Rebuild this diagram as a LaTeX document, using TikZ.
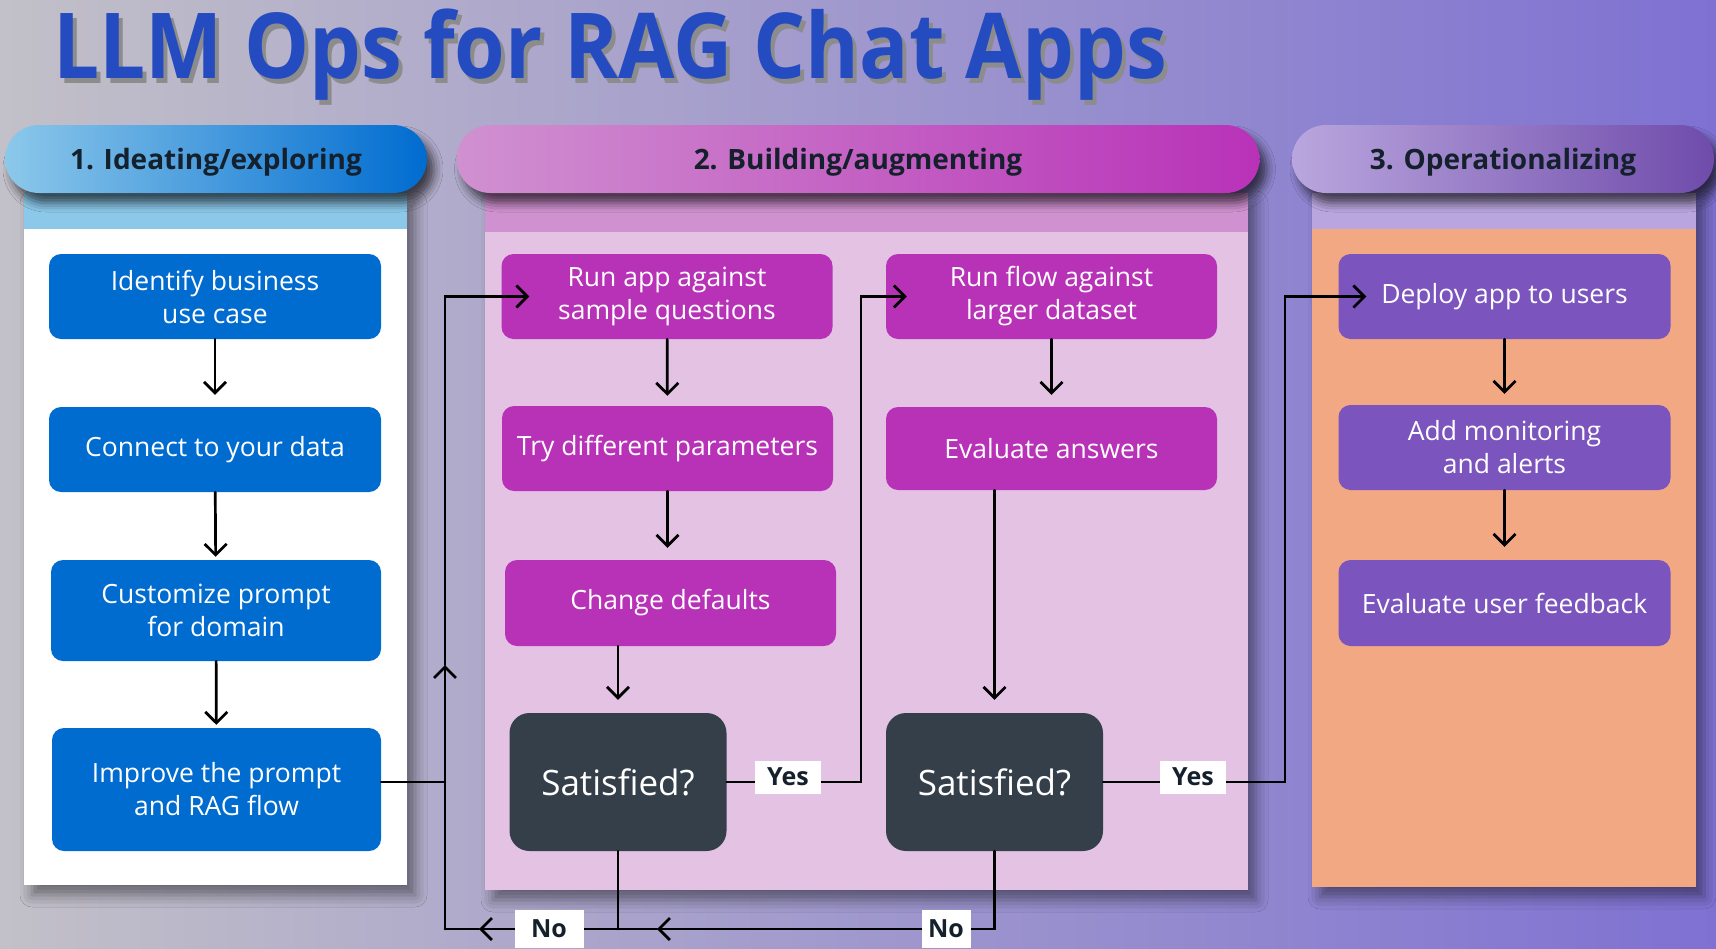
\documentclass[tikz,border=0pt]{standalone}
\usepackage{fontspec}
\usepackage{graphicx}
\setmainfont{Open Sans}
\usetikzlibrary{arrows.meta,shadows.blur}
\definecolor{bgleft}{RGB}{194,192,200}
\definecolor{bgright}{RGB}{126,113,210}
\definecolor{titleblue}{RGB}{36,76,192}
\definecolor{inkdark}{RGB}{20,32,44}
\definecolor{ideablue}{RGB}{0,108,208}
\definecolor{ideastrip}{RGB}{140,200,234}
\definecolor{buildmag}{RGB}{184,50,184}
\definecolor{buildstrip}{RGB}{208,145,208}
\definecolor{buildbody}{RGB}{228,194,228}
\definecolor{opspurple}{RGB}{123,84,190}
\definecolor{opsstrip}{RGB}{186,166,222}
\definecolor{opsbody}{RGB}{242,168,130}
\definecolor{decide}{RGB}{52,63,74}

\begin{document}
\begin{tikzpicture}[x=1pt,y=-1pt,>={Straight Barb[length=11pt,width=22pt]},
  flow/.style={line width=2.7pt,line cap=round},
  box/.style={rounded corners=12pt,text=white,align=center,inner sep=0pt,
    minimum width=331pt,minimum height=85pt,font=\fontsize{26.5}{33}\selectfont},
  ideabox/.style={box,fill=ideablue},
  buildbox/.style={box,fill=buildmag},
  opsbox/.style={box,fill=opspurple},
  decidebox/.style={box,fill=decide,rounded corners=20pt,minimum width=217pt,
    minimum height=138pt,font=\fontsize{35}{40}\selectfont},
  yesno/.style={fill=white,text=inkdark,inner sep=0pt,minimum height=33pt,
    font=\fontsize{25}{30}\selectfont\bfseries},
  head/.style={rounded corners=34pt,minimum height=68pt,text=inkdark,
    text height=20pt,text depth=0pt,font=\fontsize{28}{40}\selectfont\bfseries,
    blur shadow={shadow xshift=7pt,shadow yshift=-10pt,shadow blur radius=9pt,shadow opacity=65}},
  panel/.style={blur shadow={shadow xshift=8pt,shadow yshift=-10pt,shadow blur radius=12pt,shadow opacity=45}},
  titletext/.style={anchor=base west,inner sep=0pt,font=\fontsize{91}{100}\selectfont\bfseries}]
  \useasboundingbox (0,0) rectangle (1716,948);
  \shade[left color=bgleft,right color=bgright] (0,0) rectangle (1716,948);

  \node[titletext,text=black!45] at (57,83) {\scalebox{0.9}[1]{LLM Ops for RAG Chat Apps}};
  \node[titletext,text=titleblue] (title) at (53,78) {\scalebox{0.9}[1]{LLM Ops for RAG Chat Apps}};

  \fill[white,panel] (24,193) rectangle (407,885);
  \fill[ideastrip] (24,193) rectangle (407,229);
  \fill[buildbody,panel] (485,193) rectangle (1248,890);
  \fill[buildstrip] (485,193) rectangle (1248,232);
  \fill[opsbody,panel] (1312,193) rectangle (1696,887);
  \fill[opsstrip] (1312,193) rectangle (1696,229);

  \node[head,minimum width=422pt,left color=ideastrip,middle color=ideablue!70!ideastrip,right color=ideablue] (headone) at (216,159) {1. Ideating/exploring};
  \node[head,minimum width=803pt,left color=buildstrip,middle color=buildstrip!90!buildmag,right color=buildmag] (headtwo) at (858,159) {2. Building/augmenting};
  \node[head,minimum width=422pt,left color=opsstrip,middle color=opsstrip,right color=opspurple!90!black] (headthree) at (1503,159) {3. Operationalizing};

  \node[ideabox,minimum width=332pt] (ident) at (215,296.5) {Identify business\\use case};
  \node[ideabox,minimum width=332pt] (connect) at (215,449.5) {Connect to your data};
  \node[ideabox,minimum width=330pt,minimum height=101pt] (custom) at (216,610.5) {Customize prompt\\for domain};
  \node[ideabox,minimum width=329pt,minimum height=123pt] (improve) at (216.5,789.5) {Improve the prompt\\and RAG flow};

  \node[buildbox] (runapp) at (667,296.5) {Run app against\\sample questions};
  \node[buildbox] (tryparams) at (667.5,448.5) {Try different parameters};
  \node[buildbox,minimum height=86pt] (defaults) at (670.5,603) {Change defaults};
  \node[decidebox] (satone) at (618,782) {Satisfied?};

  \node[buildbox] (runflow) at (1051.5,296.5) {Run flow against\\larger dataset};
  \node[buildbox,minimum height=83pt] (evalans) at (1051.5,448.5) {Evaluate answers};
  \node[decidebox] (sattwo) at (994.5,782) {Satisfied?};

  \node[opsbox,minimum width=332pt] (deploy) at (1504.5,296.5) {Deploy app to users};
  \node[opsbox,minimum width=332pt] (monitor) at (1504.5,447.5) {Add monitoring\\and alerts};
  \node[opsbox,minimum width=332pt,minimum height=86pt] (feedback) at (1504.5,603) {Evaluate user feedback};

  \draw[flow,->,shorten >=12pt] (ident) -- (connect);
  \draw[flow,->,shorten >=3pt] (connect) -- (custom);
  \draw[flow,->,shorten >=3pt] (custom) -- (improve);
  \draw[flow,->,shorten >=10pt] (runapp) -- (tryparams);
  \draw[flow,->,shorten >=12pt] (tryparams) -- (defaults.north -| tryparams);
  \draw[flow,->,shorten >=13pt] (defaults.south -| satone) -- (satone);
  \draw[flow,->,shorten >=12pt] (runflow) -- (evalans);
  \draw[flow,->,shorten >=13pt] (evalans.south -| sattwo) -- (sattwo);
  \draw[flow,->,shorten >=11pt] (deploy) -- (monitor);
  \draw[flow,->,shorten >=13pt] (monitor) -- (feedback);

  \coordinate (noline) at (445,929);
  \coordinate (tipa) at (657,929);
  \coordinate (tipb) at (479,929);
  \coordinate (tipc) at (445,665);
  \coordinate (upone) at (861,782);
  \coordinate (uptwo) at (1285,782);
  \draw[flow] (improve.east |- satone) -- (noline |- satone);
  \draw[flow] (satone.south) -- (satone.south |- noline);
  \draw[flow,->] (sattwo.south) |- (tipa);
  \draw[flow,->] (tipa) -- (tipb);
  \draw[flow] (tipb) -- (noline);
  \draw[flow,->] (noline) -- (tipc);
  \draw[flow,->] (tipc) |- ([xshift=28pt]runapp.west);
  \draw[flow,->] (satone.east) -- (upone) |- ([xshift=21pt]runflow.west);
  \draw[flow,->] (sattwo.east) -- (uptwo) |- ([xshift=28pt]deploy.west);

  \node[yesno,minimum width=66pt] (yesone) at (788,777) {Yes};
  \node[yesno,minimum width=66pt] (yestwo) at (1193,777) {Yes};
  \node[yesno,minimum width=69pt,minimum height=38pt] (noone) at (549,929) {No};
  \node[yesno,minimum width=49pt,minimum height=38pt] (notwo) at (946,929) {No};
\end{tikzpicture}
\end{document}
